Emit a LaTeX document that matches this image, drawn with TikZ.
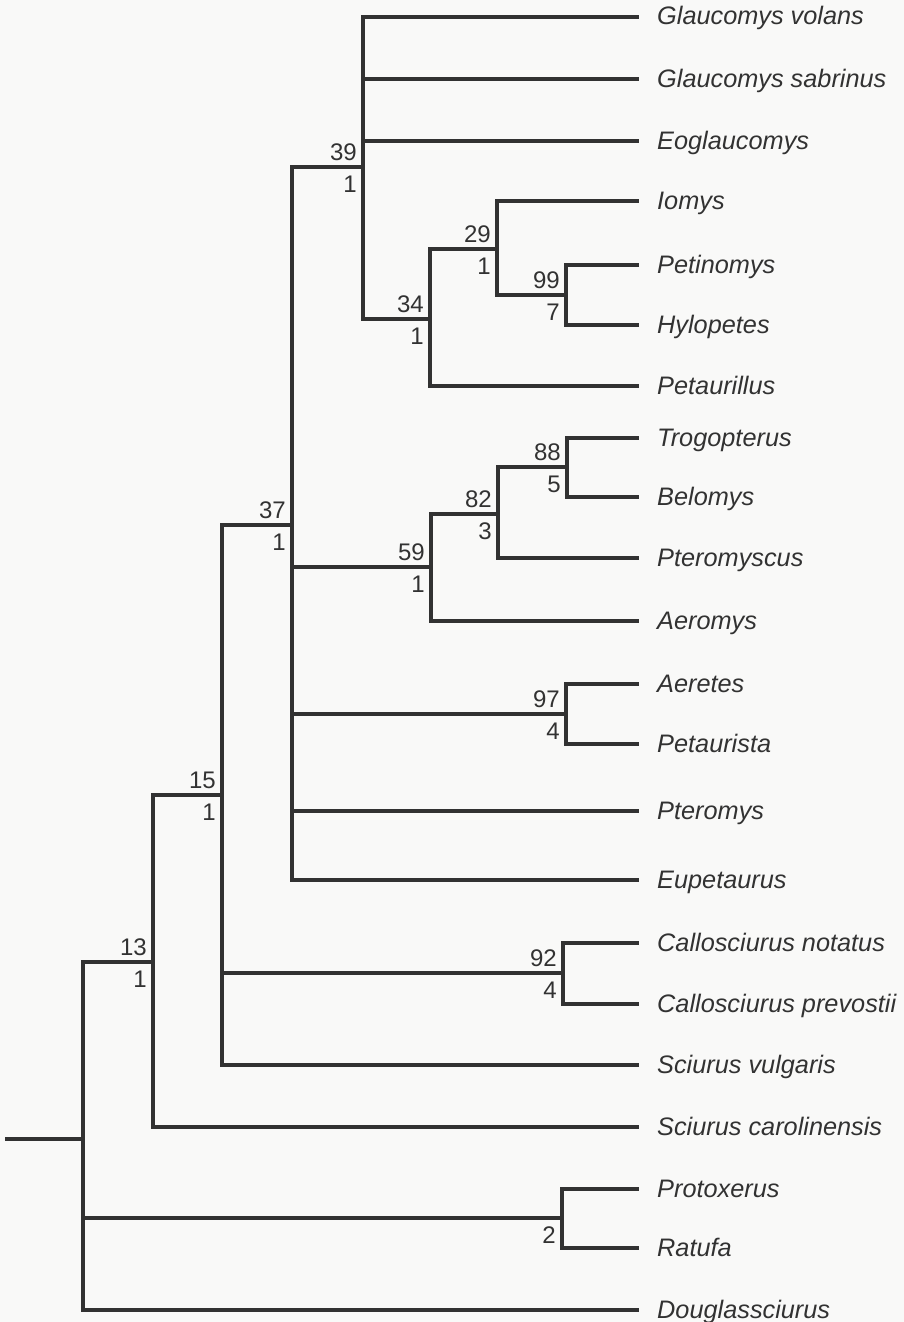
\documentclass[tikz,border=0pt]{standalone}
\usepackage{fontspec}
\setmainfont{Liberation Sans}
\definecolor{ink}{RGB}{50,50,50}
\definecolor{paper}{RGB}{249,249,248}
\begin{document}
\begin{tikzpicture}[x=1pt,y=-1pt,
  branch/.style={draw=ink,line width=3.4pt,line cap=rect,line join=miter},
  taxon/.style={anchor=base west,inner sep=0pt,text=ink,font=\fontsize{25.3}{30}\selectfont\itshape},
  supup/.style={anchor=south east,inner sep=0pt,text=ink,font=\fontsize{24}{28}\selectfont},
  supdn/.style={anchor=north east,inner sep=0pt,text=ink,font=\fontsize{24}{28}\selectfont}]
\fill[paper] (0,0) rectangle (904,1322);
\useasboundingbox (0,0) rectangle (904,1322);
% internal nodes (x of vertical bar, y of incoming branch)
\coordinate (stem) at (7,1139);
\coordinate (root) at (83,1139);
\coordinate (n13) at (153,962);
\coordinate (n15) at (222,795);
\coordinate (n37) at (292,525);
\coordinate (n39) at (363,167);
\coordinate (n34) at (430,319);
\coordinate (n29) at (497,249);
\coordinate (n99) at (566,295);
\coordinate (n59) at (431,567);
\coordinate (n82) at (498,514);
\coordinate (n88) at (567,467);
\coordinate (n97) at (566,714);
\coordinate (n92) at (563,973);
\coordinate (nPR) at (562,1218);
% leaves
\coordinate (gv) at (637,17);
\coordinate (gs) at (637,79);
\coordinate (eo) at (637,141);
\coordinate (io) at (637,201);
\coordinate (pe) at (637,265);
\coordinate (hy) at (637,325);
\coordinate (pl) at (637,386);
\coordinate (tr) at (637,438);
\coordinate (be) at (637,497);
\coordinate (ps) at (637,558);
\coordinate (ae) at (637,621);
\coordinate (ar) at (637,684);
\coordinate (pt) at (637,744);
\coordinate (pm) at (637,811);
\coordinate (eu) at (637,880);
\coordinate (cn) at (637,943);
\coordinate (cp) at (637,1004);
\coordinate (sv) at (637,1065);
\coordinate (sc) at (637,1127);
\coordinate (pr) at (637,1189);
\coordinate (ra) at (637,1248);
\coordinate (do) at (637,1310);
% branches
\draw[branch] (stem) -- (root);
\draw[branch] (root) |- (n13);
\draw[branch] (root) |- (nPR);
\draw[branch] (root) |- (do);
\draw[branch] (nPR) |- (pr);
\draw[branch] (nPR) |- (ra);
\draw[branch] (n13) |- (n15);
\draw[branch] (n13) |- (sc);
\draw[branch] (n15) |- (n37);
\draw[branch] (n15) |- (n92);
\draw[branch] (n15) |- (sv);
\draw[branch] (n92) |- (cn);
\draw[branch] (n92) |- (cp);
\draw[branch] (n37) |- (n39);
\draw[branch] (n37) |- (n59);
\draw[branch] (n37) |- (n97);
\draw[branch] (n37) |- (pm);
\draw[branch] (n37) |- (eu);
\draw[branch] (n39) |- (gv);
\draw[branch] (n39) |- (gs);
\draw[branch] (n39) |- (eo);
\draw[branch] (n39) |- (n34);
\draw[branch] (n34) |- (n29);
\draw[branch] (n34) |- (pl);
\draw[branch] (n29) |- (io);
\draw[branch] (n29) |- (n99);
\draw[branch] (n99) |- (pe);
\draw[branch] (n99) |- (hy);
\draw[branch] (n59) |- (n82);
\draw[branch] (n59) |- (ae);
\draw[branch] (n82) |- (n88);
\draw[branch] (n82) |- (ps);
\draw[branch] (n88) |- (tr);
\draw[branch] (n88) |- (be);
\draw[branch] (n97) |- (ar);
\draw[branch] (n97) |- (pt);
% support values
\foreach \n/\a/\b in {n13/13/1,n15/15/1,n37/37/1,n39/39/1,n34/34/1,n29/29/1,n99/99/7,n59/59/1,n82/82/3,n88/88/5,n97/97/4,n92/92/4}{
  \node[supup] (\n u) at ([xshift=-6pt,yshift=6pt]\n) {\a};
  \node[supdn] (\n d) at ([xshift=-6pt,yshift=-9pt]\n) {\b};
}
\node[supdn] (nPRd) at ([xshift=-6pt,yshift=-9pt]nPR) {2};
% taxa
\foreach \c/\t in {gv/Glaucomys volans,gs/Glaucomys sabrinus,eo/Eoglaucomys,io/Iomys,pe/Petinomys,hy/Hylopetes,pl/Petaurillus,tr/Trogopterus,be/Belomys,ps/Pteromyscus,ae/Aeromys,ar/Aeretes,pt/Petaurista,pm/Pteromys,eu/Eupetaurus,cn/Callosciurus notatus,cp/Callosciurus prevostii,sv/Sciurus vulgaris,sc/Sciurus carolinensis,pr/Protoxerus,ra/Ratufa,do/Douglassciurus}{
  \node[taxon] (\c t) at ([xshift=20pt,yshift=-8pt]\c) {\t};
}
\end{tikzpicture}
\end{document}
